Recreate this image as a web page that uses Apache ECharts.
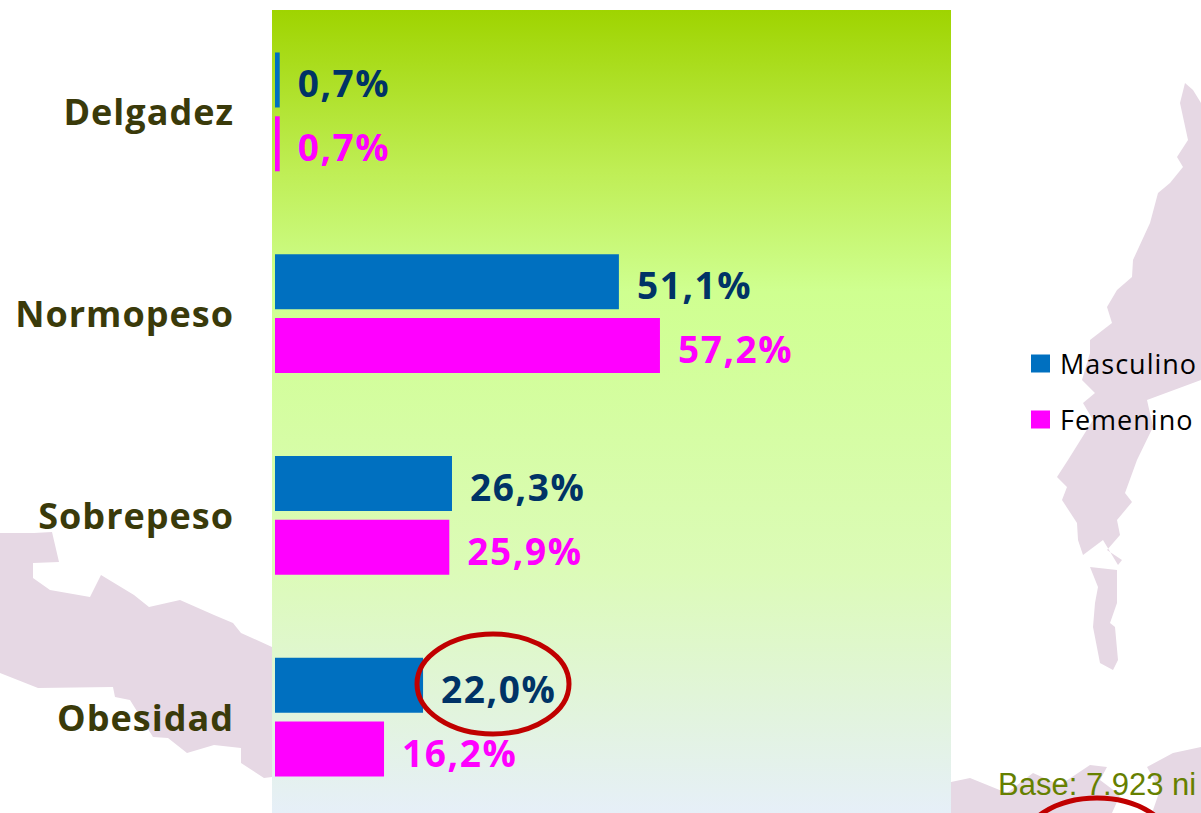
<!DOCTYPE html>
<html>
<head>
<meta charset="utf-8">
<title>Estado nutricional</title>
<script src="https://cdn.jsdelivr.net/npm/echarts@6/dist/echarts.min.js"></script>
<style>
    html, body { margin: 0; padding: 0; background: #fff; overflow: hidden; }
    #chart { width: 1201px; height: 813px; }
    /* the reference text is tracked wider than Open Sans */
    #chart svg text { letter-spacing: 1px; }
    #chart svg text[style*="37px"] { letter-spacing: 1.6px; }
    #chart svg text[style*="Liberation"] { letter-spacing: 0; }
</style>
</head>
<body>
<div id="chart"></div>
<script>
const categories = ['Delgadez', 'Normopeso', 'Sobrepeso', 'Obesidad'];
const masculino = [0.7, 51.1, 26.3, 22.0];
const femenino = [0.7, 57.2, 25.9, 16.2];

// Background map shapes, only decoration behind the chart
const landLeft = [[0,533],[34,533],[52,532],[59,562],[33,563],[33,578],[50,590],[90,597],[101,575],[134,595],[149,607],[180,600],[214,615],[233,623],[241,633],[272,647],[272,777],[264,778],[241,763],[241,748],[214,745],[187,753],[168,738],[153,737],[130,700],[115,697],[113,687],[38,688],[0,673]];
const landRight = [[1185,83],[1193,90],[1201,103],[1201,380],[1147,400],[1153,427],[1137,460],[1125,493],[1132,502],[1117,520],[1120,535],[1107,550],[1122,560],[1118,565],[1103,540],[1083,555],[1078,540],[1077,523],[1062,500],[1067,487],[1057,477],[1068,460],[1093,420],[1083,403],[1095,393],[1082,380],[1090,353],[1090,340],[1112,323],[1107,307],[1117,290],[1132,277],[1133,260],[1150,223],[1158,193],[1170,183],[1183,167],[1177,157],[1188,140],[1180,103]];
const islet = [[1090,567],[1117,570],[1117,603],[1110,623],[1115,627],[1118,660],[1113,670],[1100,663],[1093,627],[1095,603],[1098,587]];
const landBottomA = [[951,782],[970,778],[1007,793],[1033,773],[1060,785],[1090,765],[1107,767],[1100,780],[1120,795],[1112,813],[951,813]];
const landBottomB = [[1147,767],[1173,753],[1201,747],[1201,813],[1152,813],[1160,790]];

const landShapes = [landLeft, landRight, islet, landBottomA, landBottomB].map(points => ({
    type: 'polygon',
    z: -20,
    shape: { points: points },
    style: { fill: '#e6d8e4' }
}));

const chart = echarts.init(document.getElementById('chart'), null, { renderer: 'svg' });

const labelStyle = {
    show: true,
    position: 'right',
    distance: 18,
    offset: [0, 3],
    fontFamily: 'Open Sans',
    fontWeight: 'bold',
    fontSize: 37,
    formatter: p => p.value.toFixed(1).replace('.', ',') + '%'
};

chart.setOption({
    animation: false,
    backgroundColor: '#fff',
    graphic: landShapes.concat([
        {
            // green panel behind the bars
            type: 'rect',
            z: -10,
            shape: { x: 272, y: 10, width: 679, height: 803 },
            style: {
                fill: new echarts.graphic.LinearGradient(0, 0, 0, 1, [
                    { offset: 0, color: '#9fd400' },
                    { offset: 0.2, color: '#bfee55' },
                    { offset: 0.35, color: '#cfff90' },
                    { offset: 0.7, color: '#dcfbb8' },
                    { offset: 1, color: '#e6eff8' }
                ])
            }
        },
        {
            type: 'text',
            z: 50,
            left: 998,
            top: 769,
            style: {
                text: 'Base: 7.923 ni',
                fill: '#668000',
                font: '31px "Liberation Sans"'
            }
        },
        {
            type: 'ellipse',
            z: 100,
            shape: { cx: 493, cy: 684, rx: 76, ry: 50 },
            style: { fill: 'none', stroke: '#c00000', lineWidth: 5 }
        },
        {
            type: 'ellipse',
            z: 100,
            shape: { cx: 1097, cy: 848, rx: 76, ry: 50 },
            style: { fill: 'none', stroke: '#c00000', lineWidth: 5 }
        }
    ]),
    legend: {
        orient: 'vertical',
        left: 1031,
        top: 350,
        padding: 0,
        icon: 'rect',
        itemWidth: 19,
        itemHeight: 18,
        itemGap: 29,
        textStyle: { fontFamily: 'Open Sans', fontSize: 27, color: '#000', padding: [0, 0, 0, 5] },
        data: ['Masculino', 'Femenino']
    },
    grid: { left: 275, top: 11, width: 673, height: 807, outerBoundsMode: 'none' },
    xAxis: { type: 'value', min: 0, max: 100, show: false },
    yAxis: {
        type: 'category',
        inverse: true,
        data: categories,
        axisLine: { show: false },
        axisTick: { show: false },
        axisLabel: {
            margin: 41,
            padding: [6, 0, 0, 0],
            fontFamily: 'Open Sans',
            fontWeight: 'bold',
            fontSize: 36,
            color: '#3a3a0a'
        }
    },
    series: [
        {
            name: 'Masculino',
            type: 'bar',
            data: masculino,
            barWidth: 55,
            barGap: '16%',
            itemStyle: { color: '#0070c0' },
            label: Object.assign({}, labelStyle, { color: '#003366' })
        },
        {
            name: 'Femenino',
            type: 'bar',
            data: femenino,
            barWidth: 55,
            itemStyle: { color: '#ff00ff' },
            label: Object.assign({}, labelStyle, { color: '#ff00ff' })
        }
    ]
});
</script>
</body>
</html>
